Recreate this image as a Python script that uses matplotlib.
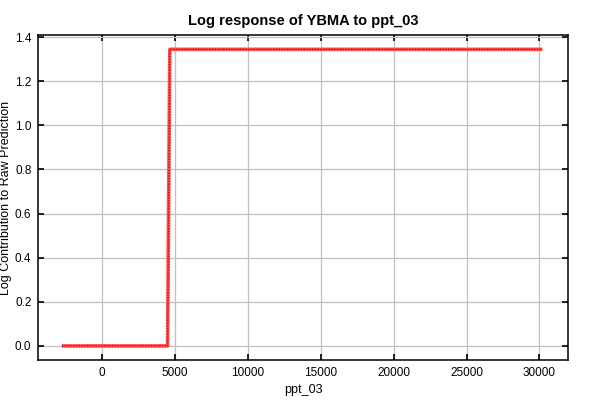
import matplotlib.pyplot as plt

plt.rcParams['font.family'] = ['Liberation Sans', 'DejaVu Sans']

ppt = [-2750, 4500, 4650, 30200]
contrib = [0.0, 0.0, 1.345, 1.345]

xticks = [0, 5000, 10000, 15000, 20000, 25000, 30000]
yticks = [0.0, 0.2, 0.4, 0.6, 0.8, 1.0, 1.2, 1.4]

fig = plt.figure(figsize=(6, 4), dpi=100)
ax = fig.add_axes([0.064, 0.1, 0.883, 0.8125])

ax.plot(ppt, contrib, color='#ff5050', lw=2.6, solid_capstyle='butt')
ax.plot(ppt, contrib, color='#e00000', lw=1.0, ls=(0, (1, 1)))

ax.set_xlim(-4360, 31970)
ax.set_ylim(-0.064, 1.41)
ax.set_xticks(xticks)
ax.set_yticks(yticks)
ax.set_yticklabels([f'{v:.1f}' for v in yticks])
ax.grid(True, color='#c0c0c0', lw=0.9)
ax.set_axisbelow(True)
ax.tick_params(direction='in', top=True, right=True, labelsize=8.5, length=4, width=1.2, pad=5)
for s in ax.spines.values():
    s.set_linewidth(1.1)

ax.set_title('Log response of YBMA to ppt_03', fontsize=10.5, fontweight='bold', pad=7)
ax.set_xlabel('ppt_03', fontsize=9)
ax.set_ylabel('Log Contribution to Raw Prediction', fontsize=9, labelpad=2)

fig.savefig('out.png')
